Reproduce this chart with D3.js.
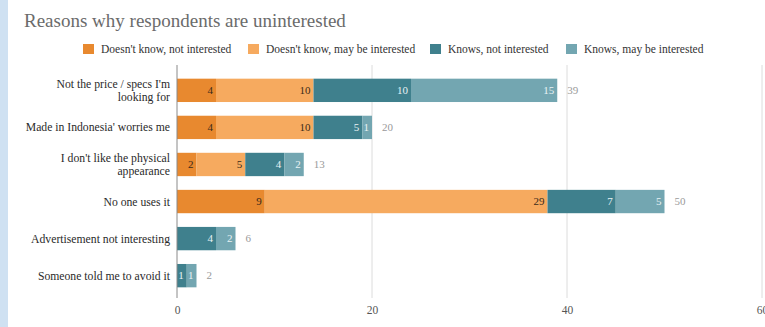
<!DOCTYPE html>
<html>
<head>
<meta charset="utf-8">
<script src="https://cdn.jsdelivr.net/npm/d3@7"></script>
<style>
  html, body { margin: 0; padding: 0; background: #fff; }
  svg { display: block; }
</style>
</head>
<body>
<svg id="chart" width="765" height="327"></svg>
<script>
// Reasons, top to bottom; long ones are wrapped onto two lines
const categories = [
  ["Not the price / specs I'm", "looking for"],
  ["Made in Indonesia' worries me"],
  ["I don't like the physical", "appearance"],
  ["No one uses it"],
  ["Advertisement not interesting"],
  ["Someone told me to avoid it"]
];
const seriesNames = [
  "Doesn't know, not interested",
  "Doesn't know, may be interested",
  "Knows, not interested",
  "Knows, may be interested"
];
const dkNotInterested   = [4, 4, 2, 9, 0, 0];
const dkMayBeInterested = [10, 10, 5, 29, 0, 0];
const kNotInterested    = [10, 5, 4, 7, 4, 1];
const kMayBeInterested  = [15, 1, 2, 5, 2, 1];
const xTicks = [0, 20, 40, 60];

const colors = ["#e8892f", "#f6aa5f", "#3f808d", "#73a6b1"];
const labelColors = ["#3a2a1a", "#3a2a1a", "#e8f2f4", "#e8f2f4"];
const SERIF = "'Liberation Serif'";

const svg = d3.select("#chart");
const W = 765, H = 327;

// pale side strip
svg.append("rect").attr("x", 0).attr("y", 0).attr("width", 8).attr("height", H).attr("fill", "#cfe1f2");

const seriesValues = [dkNotInterested, dkMayBeInterested, kNotInterested, kMayBeInterested];
const rows = categories.map((c, i) => {
  const r = { key: i };
  seriesValues.forEach((s, j) => r["s" + j] = s[i]);
  return r;
});
const keys = seriesNames.map((_, j) => "s" + j);
const stacked = d3.stack().keys(keys)(rows);
const totals = rows.map(r => d3.sum(keys, k => r[k]));

const x = d3.scaleLinear().domain([0, 60]).range([177, 762]);
const y = d3.scaleBand().domain(d3.range(categories.length)).range([72, 294]).paddingInner(0.37).paddingOuter(0.18);

// title
svg.append("text").attr("x", 24).attr("y", 27)
  .style("font-family", SERIF)
  .attr("font-size", 19).attr("fill", "#6b6b6b")
  .text("Reasons why respondents are uninterested");

// legend
const legendX = [83, 248, 430, 566];
seriesNames.forEach((name, j) => {
  const g = svg.append("g").attr("transform", `translate(${legendX[j]},44)`);
  g.append("rect").attr("width", 11).attr("height", 10).attr("fill", colors[j]);
  g.append("text").attr("x", 18).attr("y", 8.5).style("font-family", SERIF)
    .attr("font-size", 11.5).attr("fill", "#333").text(name);
});

// gridlines
svg.append("g").selectAll("line").data(xTicks.filter(t => t > 0)).join("line")
  .attr("x1", d => x(d)).attr("x2", d => x(d))
  .attr("y1", 65).attr("y2", 298)
  .attr("stroke", "#dcdcdc").attr("stroke-width", 1);

// x axis tick labels
const xAxis = d3.axisBottom(x).tickValues(xTicks).tickSize(0).tickPadding(0);
const ax = svg.append("g").attr("transform", "translate(0,306)").call(xAxis);
ax.attr("font-family", null);
ax.select(".domain").remove();
ax.selectAll("text").attr("font-size", 11.5).attr("fill", "#555").style("font-family", SERIF);

// bars
stacked.forEach((layer, j) => {
  const g = svg.append("g");
  g.selectAll("rect").data(layer.filter(d => d[1] > d[0])).join("rect")
    .attr("x", d => x(d[0]))
    .attr("y", d => y(d.data.key))
    .attr("width", d => x(d[1]) - x(d[0]))
    .attr("height", y.bandwidth())
    .attr("fill", colors[j]);
  g.selectAll("text").data(layer.filter(d => d[1] > d[0])).join("text")
    .attr("x", d => x(d[1]) - 3)
    .attr("y", d => y(d.data.key) + y.bandwidth() / 2 + 3.5)
    .attr("text-anchor", "end")
    .attr("font-size", 11)
    .attr("fill", labelColors[j])
    .style("font-family", SERIF)
    .text(d => d[1] - d[0]);
});

// totals
svg.append("g").selectAll("text").data(totals).join("text")
  .attr("x", (d) => x(d) + 10)
  .attr("y", (d, i) => y(i) + y.bandwidth() / 2 + 3.5)
  .attr("font-size", 11).attr("fill", "#9a9a9a")
  .style("font-family", SERIF)
  .text(d => d);

// category axis line
svg.append("line").attr("x1", x(0)).attr("x2", x(0)).attr("y1", 65).attr("y2", 298)
  .attr("stroke", "#8a8a8a").attr("stroke-width", 1);

// category labels
const cl = svg.append("g").selectAll("text").data(categories).join("text")
  .attr("text-anchor", "end").attr("font-size", 11.7).attr("fill", "#2a2a2a")
  .style("font-family", SERIF);
cl.each(function(lines, i) {
  const cy = y(i) + y.bandwidth() / 2;
  const t = d3.select(this);
  lines.forEach((ln, k) => {
    t.append("tspan").attr("x", 170)
      .attr("y", cy + 4 + (k - (lines.length - 1) / 2) * 12.5)
      .text(ln);
  });
});
</script>
</body>
</html>
